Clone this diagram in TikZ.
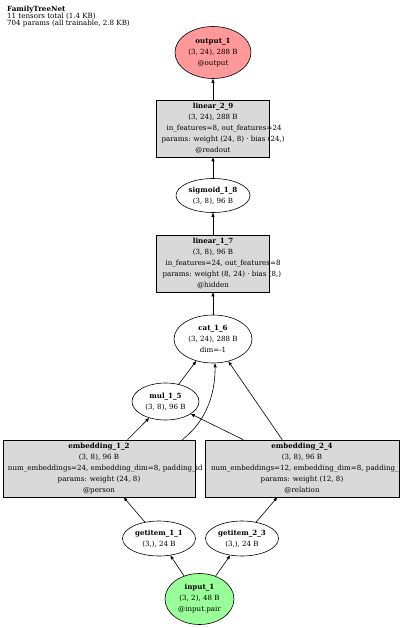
\documentclass[tikz,border=0pt]{standalone}
\usepackage{fontspec}
\setmainfont{DejaVu Serif}
\usetikzlibrary{arrows.meta,shapes.geometric}
\definecolor{outfill}{HTML}{FF9999}
\definecolor{infill}{HTML}{99FF99}
\definecolor{opfill}{HTML}{D9D9D9}
\newcommand{\ovl}[2]{\makebox[0pt][l]{\hspace{#1}#2}}
\begin{document}
\begin{tikzpicture}[x=1pt,y=-1pt,
  every node/.style={font=\fontsize{7.1}{11}\selectfont, align=center, inner sep=0pt},
  tensor/.style={ellipse, draw, line width=0.6pt},
  opbox/.style={rectangle, draw, fill=opfill, line width=0.6pt, minimum width=113pt, minimum height=57pt},
  edge/.style={draw, line width=0.6pt, -{Triangle[length=4pt,width=3pt]}}]
\useasboundingbox[fill=white] (0,0) rectangle (400,628);

\node[anchor=north west, align=left, font=\fontsize{7.1}{7}\selectfont] (title) at (7,5.5)
  {\textbf{FamilyTreeNet}\\11 tensors total (1.4 KB)\\704 params (all trainable, 2.8 KB)};

\node[tensor, fill=outfill, minimum width=76pt, minimum height=52pt] (output_1) at (213,52.5)
  {\textbf{output\_1}\\(3, 24), 288 B\\@output};
\node[opbox] (linear_2_9) at (213,128.5)
  {\textbf{linear\_2\_9}\\(3, 24), 288 B\\\ovl{-46.5pt}{in\_features=8, out\_features=24}\\\ovl{-51.5pt}{params: weight (24, 8) · bias (24,)}\\@readout};
\node[tensor, minimum width=74pt, minimum height=34pt] (sigmoid_1_8) at (213,195.5)
  {\textbf{sigmoid\_1\_8}\\(3, 8), 96 B};
\node[opbox] (linear_1_7) at (213,263.5)
  {\textbf{linear\_1\_7}\\(3, 8), 96 B\\\ovl{-47.5pt}{in\_features=24, out\_features=8}\\\ovl{-50.5pt}{params: weight (8, 24) · bias (8,)}\\@hidden};
\node[tensor, minimum width=78pt, minimum height=48pt] (cat_1_6) at (213,339)
  {\textbf{cat\_1\_6}\\(3, 24), 288 B\\dim=-1};
\node[tensor, minimum width=67pt, minimum height=37pt] (mul_1_5) at (165.5,401.5)
  {\textbf{mul\_1\_5}\\(3, 8), 96 B};
\node[opbox, minimum width=192pt] (embedding_1_2) at (99,468.5)
  {\textbf{embedding\_1\_2}\\(3, 8), 96 B\\\ovl{-91pt}{num\_embeddings=24, embedding\_dim=8, padding\_id}\\params: weight (24, 8)\\@person};
\node[opbox, minimum width=194pt] (embedding_2_4) at (302,468.5)
  {\textbf{embedding\_2\_4}\\(3, 8), 96 B\\\ovl{-91pt}{num\_embeddings=12, embedding\_dim=8, padding\_}\\params: weight (12, 8)\\@relation};
\node[tensor, minimum width=73pt, minimum height=35pt] (getitem_1_1) at (159,538.5)
  {\textbf{getitem\_1\_1}\\(3,), 24 B};
\node[tensor, minimum width=73pt, minimum height=35pt] (getitem_2_3) at (242,538.5)
  {\textbf{getitem\_2\_3}\\(3,), 24 B};
\node[tensor, fill=infill, minimum width=69pt, minimum height=51pt] (input_1) at (199.5,599)
  {\textbf{input\_1}\\(3, 2), 48 B\\@input.pair};

\draw[edge] (linear_2_9) -- (output_1);
\draw[edge] (sigmoid_1_8) -- (linear_2_9);
\draw[edge] (linear_1_7) -- (sigmoid_1_8);
\draw[edge] (cat_1_6) -- (linear_1_7);
\draw[edge] (mul_1_5) -- (cat_1_6);
\draw[edge] ([xshift=-13pt]embedding_1_2.north east) .. controls +(23,-18) and +(0,33) .. (cat_1_6.275);
\draw[edge] (embedding_1_2) -- (mul_1_5);
\draw[edge] (embedding_2_4) -- (mul_1_5);
\draw[edge] (embedding_2_4) -- (cat_1_6);
\draw[edge] (getitem_1_1) -- (embedding_1_2);
\draw[edge] (getitem_2_3) -- (embedding_2_4);
\draw[edge] (input_1) -- (getitem_1_1);
\draw[edge] (input_1) -- (getitem_2_3);
\end{tikzpicture}
\end{document}
